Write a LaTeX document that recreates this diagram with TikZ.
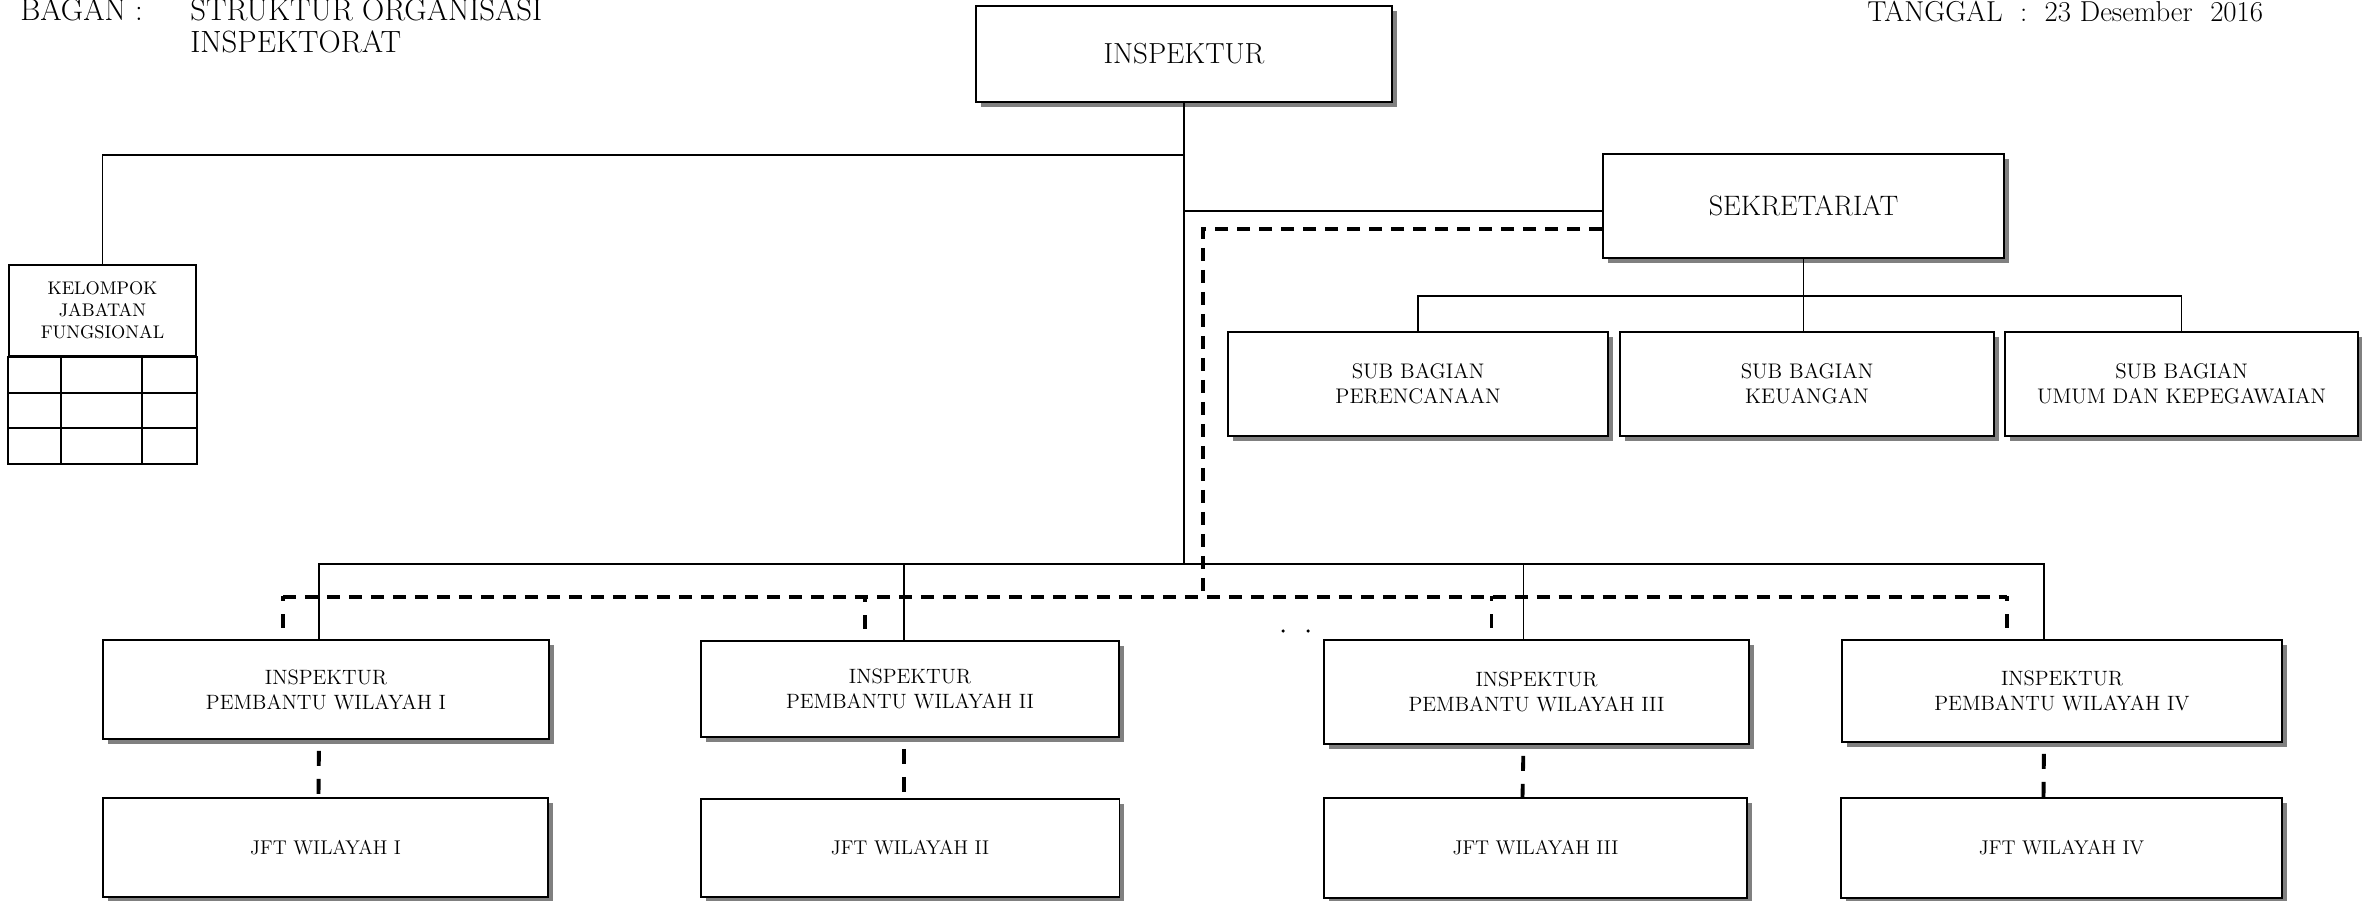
\documentclass[tikz,border=0pt]{standalone}
\usepackage{fontspec}
\usetikzlibrary{calc,shadows}

\begin{document}
\begin{tikzpicture}[x=0.02cm, y=-0.02cm,
  kotak/.style={draw, line width=1.1pt, fill=white, align=center, inner sep=0pt,
    drop shadow={shadow xshift=0.1cm, shadow yshift=-0.1cm, fill=black!50, opacity=1}},
  kisi/.style={line width=1.1pt},
  garis/.style={line width=0.8pt},
  putus/.style={line width=2.2pt, dash pattern=on 0.26cm off 0.18cm},
  putusatas/.style={line width=2.2pt, dash pattern=on 0.28cm off 0.26cm, dash phase=0.18cm},
  putusbawah/.style={line width=2.2pt, dash pattern=on 0.3cm off 0.26cm, dash phase=0.34cm},
  judul/.style={anchor=base west, inner sep=0pt, font=\fontsize{17.5}{21}\selectfont}]

\useasboundingbox (0,0) rectangle (2362,901);

% kepala
\node[judul] (bagan) at (20,21) {BAGAN :};
\node[judul] (judul1) at (190,21) {STRUKTUR ORGANISASI};
\node[judul] (judul2) at (190,53) {INSPEKTORAT};
\node[judul, font=\fontsize{16.4}{19}\selectfont] (tanggal) at (1867,22) {TANGGAL\ \ :\ \ 23 Desember\ \ 2016};

% kotak
\node[kotak, minimum width=8.32cm, minimum height=1.92cm, font=\fontsize{16.5}{20}\selectfont] (insp) at (1184,54) {INSPEKTUR};
\node[kotak, minimum width=8.02cm, minimum height=2.08cm, font=\fontsize{16}{19}\selectfont] (sekr) at (1803.5,206) {SEKRETARIAT};

\node[kotak, minimum width=7.6cm, minimum height=2.08cm, font=\fontsize{12}{14.2}\selectfont] (subA) at (1418,384) {SUB BAGIAN\\PERENCANAAN};
\node[kotak, minimum width=7.48cm, minimum height=2.08cm, font=\fontsize{12}{14.2}\selectfont] (subB) at (1807,384) {SUB BAGIAN\\KEUANGAN};
\node[kotak, minimum width=7.06cm, minimum height=2.08cm, font=\fontsize{12}{14.2}\selectfont] (subC) at (2181.5,384) {SUB BAGIAN\\UMUM DAN KEPEGAWAIAN};

\node[draw, line width=1.1pt, align=center, inner sep=0pt, minimum width=3.74cm, minimum height=1.82cm, font=\fontsize{10.4}{12.5}\selectfont] (kjf) at (102.5,310.5) {KELOMPOK\\JABATAN\\FUNGSIONAL};
\draw[kisi] (kjf.south west) rectangle ($(kjf.south east)+(0,107)$);
\foreach \r in {36,71} \draw[kisi] ($(kjf.south west)+(0,\r)$) -- ($(kjf.south east)+(0,\r)$);
\foreach \c in {53,134} \draw[kisi] ($(kjf.south west)+(\c,0)$) -- ++(0,107);

\node[kotak, minimum width=8.92cm, minimum height=1.98cm, font=\fontsize{11.8}{14.2}\selectfont] (pw1) at (326,689.5) {INSPEKTUR\\PEMBANTU WILAYAH I};
\node[kotak, minimum width=8.36cm, minimum height=1.92cm, font=\fontsize{11.8}{14.2}\selectfont] (pw2) at (910,689) {INSPEKTUR\\PEMBANTU WILAYAH II};
\node[kotak, minimum width=8.5cm, minimum height=2.08cm, font=\fontsize{11.8}{14.2}\selectfont] (pw3) at (1536.5,692) {INSPEKTUR\\PEMBANTU WILAYAH III};
\node[kotak, minimum width=8.8cm, minimum height=2.04cm, font=\fontsize{11.8}{14.2}\selectfont] (pw4) at (2062,691) {INSPEKTUR\\PEMBANTU WILAYAH IV};

\node[kotak, minimum width=8.9cm, minimum height=1.98cm, font=\fontsize{11.3}{13.5}\selectfont] (jft1) at (325.5,847.5) {JFT WILAYAH I};
\node[kotak, minimum width=8.38cm, minimum height=1.96cm, font=\fontsize{11.3}{13.5}\selectfont] (jft2) at (910,848) {JFT WILAYAH II};
\node[kotak, minimum width=8.46cm, minimum height=2cm, font=\fontsize{11.3}{13.5}\selectfont] (jft3) at (1535.5,848) {JFT WILAYAH III};
\node[kotak, minimum width=8.82cm, minimum height=2cm, font=\fontsize{11.3}{13.5}\selectfont] (jft4) at (2061.5,848) {JFT WILAYAH IV};

% garis
\coordinate (busW) at (319,564);
\coordinate (busE) at (2044,564);
\coordinate (dbelok) at (1203,597);
\coordinate (dkiri) at (283,597);
\coordinate (dkanan) at (2007,597);

\draw[garis] (insp.south) -- (insp.south |- busW);
\draw[garis] (kjf.north) |- (insp.south |- 0,155);
\draw[garis] (sekr.west |- 0,211) -- (insp.south |- 0,211);
\draw[garis] (busW) -- (busE);

\draw[garis] (sekr.south) -- (sekr.south |- subB.north);
\draw[garis] (subA.north) -- ++(0,-35) -| (subC.north);

\draw[putus] (sekr.west |- 0,229) -| (dbelok);
\draw[putus] (dkiri) -- (dkanan);

\foreach \n/\s/\d in {1/-7/-43, 2/-6/-45, 3/-13/-45, 4/-18/-55} {
  \draw[garis] ($(pw\n.north)+(\s,0)$) -- ($(pw\n.north)+(\s,-76)$);
  \draw[putusatas] ($(pw\n.north)+(\d,-43)$) -- ($(pw\n.north)+(\d,-11)$);
  \draw[putusbawah] ($(pw\n.south)+(\s,0)$) -- ($(jft\n.north)+(\s,0)$);
}

\fill (1283,631) circle (1pt);
\fill (1308,631) circle (1pt);

\end{tikzpicture}
\end{document}
